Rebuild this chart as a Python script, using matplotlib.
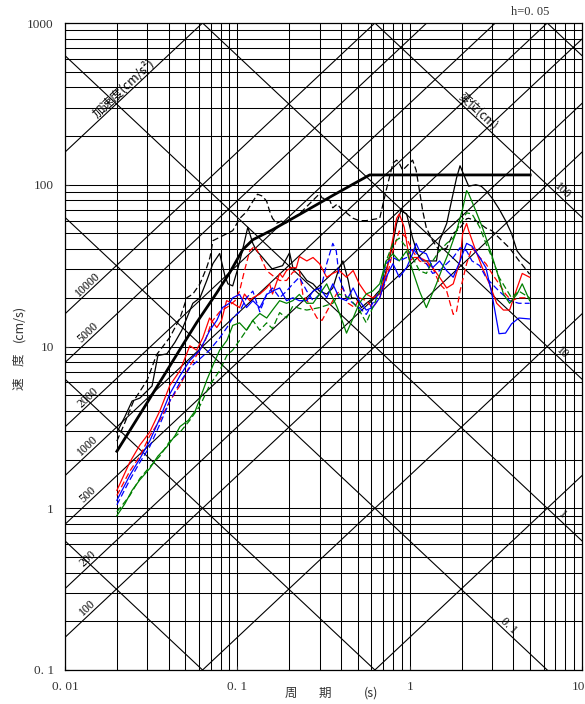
import numpy as np
import matplotlib
matplotlib.use("Agg")
import matplotlib.pyplot as plt
from matplotlib.transforms import offset_copy

plt.rcParams['font.family'] = ['Liberation Serif', 'Noto Sans CJK JP', 'DejaVu Sans']
JP = ['Noto Sans CJK JP', 'DejaVu Sans']

# ---- grid / tripartite lines ----
acc_lines = [1, 10, 100, 200, 500, 1000, 2000, 5000, 10000, 100000]   # cm/s2
acc_labels = [100, 200, 500, 1000, 2000, 5000, 10000]
disp_lines = [0.001, 0.01, 0.1, 1, 10, 100, 1000]                    # cm
disp_labels = {100: "100", 10: "10", 1: "1", 0.1: "0. 1"}

# ---- spectra (period s, velocity cm/s) ----
design_T = [0.02, 0.03, 0.0465, 0.0582, 0.076, 0.0905, 0.1075, 0.123, 0.16, 0.229, 0.366, 0.586, 5.0]
design_V = [2.25, 4.5, 9.6, 14.1, 21.5, 28.7, 39.7, 45.7, 52.7, 65.4, 87, 115, 115]

blk_T = [0.02, 0.0223, 0.0245, 0.0272, 0.032, 0.0346, 0.039, 0.0434, 0.0476, 0.0552, 0.0607, 0.0665,
         0.0722, 0.079, 0.0847, 0.0882, 0.094, 0.101, 0.107, 0.115, 0.123, 0.129, 0.140, 0.159, 0.183,
         0.201, 0.21, 0.229, 0.253, 0.275, 0.30, 0.33, 0.358, 0.39, 0.41, 0.44, 0.46, 0.49, 0.525, 0.56,
         0.61, 0.64, 0.69, 0.73, 0.79, 0.84, 0.89, 0.96, 1.04, 1.11, 1.19, 1.30, 1.43, 1.49, 1.64, 1.75,
         1.87, 1.96, 2.1, 2.2, 2.42, 2.6, 2.77, 3.0, 3.3, 3.6, 3.9, 4.2, 4.5, 4.97]
blk_V = [2.94, 3.7, 4.6, 4.8, 5.7, 8.8, 9.0, 10.6, 12.6, 18.5, 20.0, 25.6,
         32.6, 37.6, 27.3, 24.4, 23.7, 30.7, 39.2, 54.6, 43.4, 39.2, 35.5, 30.2, 31.6,
         38, 30.7, 29.5, 25.6, 24.4, 22.0, 21.1, 23.0, 30.7, 33.8, 25.6, 20.0, 19.8, 17.4, 18.5,
         19.8, 21.1, 23, 29.4, 40.8, 57.6, 69, 66, 46.8, 37.4, 33.8, 33.8, 33.8, 45, 57.6, 79.6,
         110, 131, 110, 98, 100, 98, 92, 83, 71, 60, 50, 39, 35.5, 32.5]

blkd_T = [0.02, 0.0223, 0.025, 0.03, 0.034, 0.0406, 0.0465, 0.0509, 0.0552, 0.0607, 0.0665, 0.0694,
          0.0722, 0.094, 0.1034, 0.113, 0.123, 0.131, 0.140, 0.148, 0.154, 0.160, 0.169, 0.18, 0.19,
          0.209, 0.229, 0.30, 0.31, 0.344, 0.358, 0.38, 0.40, 0.43, 0.47, 0.51, 0.56, 0.61, 0.67, 0.73,
          0.80, 0.84, 0.87, 0.91, 1.0, 1.04, 1.09, 1.14, 1.19, 1.25, 1.36, 1.49, 1.64, 1.79, 1.96, 2.14,
          2.2, 2.42, 2.77, 3.0, 3.3, 3.8, 4.3, 4.97]
blkd_V = [2.6, 3.4, 4.6, 6.2, 8.9, 11.4, 15.0, 20.0, 21.1, 24.4, 30.9, 35.6,
          45.1, 52, 62, 68, 79, 87.4, 85, 79, 68.6, 62, 57.8, 59.6, 57.8,
          62, 66, 88, 83, 80, 72, 76, 71, 67, 62, 60, 60, 61, 62, 92,
          136, 142, 136, 123, 136, 142, 123, 92, 69, 54, 45, 39, 40.6, 50, 54, 61.6,
          62, 60, 54, 52, 47, 40.6, 34, 28]

red_T = [0.02, 0.0238, 0.0272, 0.031, 0.0355, 0.0406, 0.0465, 0.053, 0.058, 0.063, 0.069, 0.076,
         0.081, 0.0866, 0.094, 0.103, 0.110, 0.118, 0.123, 0.135, 0.148, 0.154, 0.160, 0.176, 0.183,
         0.193, 0.206, 0.22, 0.229, 0.253, 0.275, 0.30, 0.33, 0.358, 0.39, 0.43, 0.47, 0.51, 0.56, 0.61,
         0.67, 0.73, 0.80, 0.84, 0.87, 0.93, 1.0, 1.06, 1.14, 1.25, 1.36, 1.49, 1.64, 1.79, 1.96, 2.03,
         2.14, 2.2, 2.42, 2.64, 2.9, 3.2, 3.5, 3.8, 4.2, 4.5, 4.97]
red_V = [1.29, 1.93, 2.46, 2.95, 4.0, 5.75, 7.1, 10.1, 9.5, 11.3, 15.0, 13.1,
         14.5, 19.2, 18.5, 17.4, 21.1, 19.2, 20, 21.1, 23, 24.4, 21.1, 28.3, 26.8,
         29.5, 30.7, 30.7, 36, 33.8, 35.5, 32.5, 26.8, 28.3, 29.5, 26.8, 29.5, 24.4, 21.1, 20,
         21.1, 28.3, 46.8, 62, 66, 54.6, 33.8, 35.5, 35.5, 33.8, 30.7, 26.8, 23, 24.4, 33.8, 50,
         57.6, 52, 39, 30.7, 24.4, 18.5, 16.8, 16.8, 23, 28.3, 26.8]

redd_T = [0.02, 0.0238, 0.0272, 0.031, 0.0355, 0.0406, 0.0465, 0.053, 0.058, 0.065, 0.071, 0.079,
          0.088, 0.097, 0.103, 0.11, 0.118, 0.126, 0.135, 0.148, 0.16, 0.176, 0.193, 0.21, 0.229,
          0.24, 0.26, 0.29, 0.31, 0.34, 0.375, 0.41, 0.44, 0.48, 0.51, 0.56, 0.61, 0.67, 0.73, 0.80,
          0.87, 0.96, 1.04, 1.14, 1.25, 1.36, 1.49, 1.64, 1.79, 1.87, 1.96, 2.14, 2.3, 2.55, 2.77,
          3.0, 3.3, 3.6, 3.9, 4.3, 4.97]
redd_V = [1.2, 1.7, 2.1, 2.8, 3.5, 4.6, 5.75, 7.6, 8.8, 10.8, 14.2, 16.4,
          17.6, 19.2, 22.0, 29.4, 39.0, 41.7, 36.6, 29.4, 27.5, 25.6, 25.6, 28.8, 29.5,
          21, 18.5, 15, 14.5, 17.4, 21, 23, 18.5, 17.4, 20, 19.2, 17.4, 20, 25.6, 39,
          51.8, 46.8, 39, 33.8, 32.5, 30.7, 24.4, 22, 15.8, 16.5, 22, 32.5, 40.8, 35.5, 32.5,
          28.3, 24.4, 21.1, 19.2, 20, 20]

blu_T = [0.02, 0.0238, 0.027, 0.031, 0.0355, 0.0406, 0.0465, 0.053, 0.0607, 0.069, 0.076, 0.082,
         0.09, 0.094, 0.103, 0.113, 0.123, 0.135, 0.148, 0.16, 0.176, 0.193, 0.21, 0.229, 0.253,
         0.275, 0.30, 0.33, 0.358, 0.39, 0.43, 0.47, 0.51, 0.56, 0.61, 0.67, 0.73, 0.80, 0.87, 0.96,
         1.04, 1.09, 1.14, 1.25, 1.36, 1.49, 1.64, 1.79, 1.96, 2.14, 2.3, 2.55, 2.77, 3.0, 3.3, 3.6,
         3.9, 4.3, 4.97]
blu_V = [1.12, 1.6, 2.0, 2.6, 3.6, 5.1, 6.6, 8.2, 9.5, 12.5, 14.5, 17.4,
         18.5, 20, 21, 17.4, 19.2, 17.4, 21, 22, 23, 19.2, 20, 19.2, 19.2,
         22, 23, 20, 24.4, 20, 19.2, 23, 19.2, 16.8, 17.4, 20, 26.8, 32.5, 26.8, 30.7,
         37.4, 43.4, 39, 37.4, 30.7, 33.8, 29.4, 26.8, 33.8, 43.4, 41.7, 35.5, 30.7, 21.1, 12.0, 12.1,
         13.8, 15, 14.8]

blud_T = [0.02, 0.0238, 0.027, 0.031, 0.0355, 0.0406, 0.0465, 0.053, 0.0607, 0.069, 0.079, 0.087,
          0.094, 0.103, 0.113, 0.123, 0.135, 0.148, 0.16, 0.176, 0.193, 0.21, 0.229, 0.253, 0.275,
          0.30, 0.33, 0.358, 0.375, 0.39, 0.43, 0.47, 0.51, 0.56, 0.61, 0.67, 0.73, 0.80, 0.87, 0.96,
          1.04, 1.14, 1.25, 1.36, 1.49, 1.64, 1.79, 1.96, 2.14, 2.3, 2.55, 2.77, 3.0, 3.3, 3.8, 4.3,
          4.97]
blud_V = [1.05, 1.5, 1.9, 2.4, 3.3, 4.6, 6.0, 7.4, 8.4, 9.5, 11.3, 13.1,
          15, 16.4, 20, 22, 16.4, 21, 23, 20, 22, 24.4, 26.8, 22, 19.2,
          21, 32.5, 43.4, 39, 26.8, 20, 18.5, 17.4, 15.8, 18.5, 22, 32.5, 35.5, 33.8, 35.5,
          40.8, 35.5, 32.5, 28.3, 29.4, 32.5, 35.5, 40.8, 39, 33.8, 31.6, 26.8, 24.4, 22, 19.2, 18.5,
          18.5]

grn_T = [0.02, 0.0223, 0.0245, 0.0272, 0.031, 0.0346, 0.039, 0.0434, 0.0465, 0.052, 0.057, 0.0607,
         0.0665, 0.072, 0.079, 0.087, 0.094, 0.103, 0.113, 0.123, 0.135, 0.148, 0.16, 0.176, 0.193,
         0.21, 0.229, 0.253, 0.275, 0.30, 0.33, 0.358, 0.38, 0.41, 0.43, 0.47, 0.51, 0.56, 0.61, 0.67,
         0.73, 0.80, 0.87, 0.96, 1.04, 1.14, 1.25, 1.30, 1.43, 1.55, 1.7, 1.87, 2.03, 2.14, 2.2, 2.42,
         2.64, 2.9, 3.2, 3.5, 3.8, 4.2, 4.5, 4.97]
grn_V = [0.9, 1.07, 1.29, 1.5, 1.76, 2.1, 2.4, 2.8, 3.2, 3.5, 4.0, 4.75,
         6.2, 7.6, 9.5, 10.9, 13.5, 14, 12.6, 14.5, 16, 15, 16.8, 19.2, 18.5,
         19.2, 21, 18.5, 18.5, 21.1, 24.4, 20, 17.4, 14, 12.1, 15, 18.5, 21.1, 22, 24.4,
         33.8, 37.4, 33.8, 39, 29.4, 22, 17.4, 19.2, 24.4, 30.7, 39, 51.8, 71, 92, 88, 69,
         54.6, 40.8, 29.4, 21.1, 18.5, 21.1, 24.4, 19.2]

grnd_T = [0.02, 0.0238, 0.0272, 0.031, 0.0355, 0.0406, 0.0465, 0.053, 0.0607, 0.069, 0.079, 0.087,
          0.094, 0.103, 0.113, 0.123, 0.135, 0.148, 0.16, 0.176, 0.193, 0.21, 0.229, 0.253, 0.30,
          0.358, 0.39, 0.445, 0.51, 0.56, 0.61, 0.67, 0.73, 0.80, 0.87, 0.96, 1.04, 1.14, 1.25, 1.36,
          1.49, 1.64, 1.79, 1.96, 2.14, 2.3, 2.55, 2.77, 3.0, 3.3, 3.6, 3.9, 4.3, 4.97]
grnd_V = [0.95, 1.2, 1.53, 1.8, 2.1, 2.6, 2.95, 3.5, 4.3, 5.75, 7.1, 8.8,
          9.5, 10.9, 12.6, 14.5, 12.6, 14, 12.9, 16.2, 15, 17.8, 17.2, 16.8, 17.4,
          18.5, 21.1, 20, 16.8, 14, 17.4, 22, 33.8, 43.4, 46.8, 40.8, 35.5, 29.4, 28.3, 33.8,
          39, 43.4, 46.8, 57.6, 67, 66, 54.6, 43.4, 35.5, 26.8, 23, 20, 22, 20]

x_ticks = [0.01, 0.1, 1, 10]
x_ticklabels = ["0. 01", "0. 1", "1", "10"]
y_ticks = [0.1, 1, 10, 100, 1000]
y_ticklabels = ["0. 1", "1", "10", "100", "1000"]

# ---- figure ----
fig = plt.figure(figsize=(5.85, 7.04), dpi=100)
ax = fig.add_axes([65 / 585, 34 / 704, 517 / 585, 647 / 704])
ax.set_xscale('log')
ax.set_yscale('log')
ax.set_xlim(0.01, 10)
ax.set_ylim(0.1, 1000)

gkw = dict(color='black', lw=0.75, zorder=1)
for dec in [0.01, 0.1, 1]:
    for k in range(1, 10):
        ax.axvline(dec * k, **gkw)
for dec in [0.1, 1, 10, 100]:
    for k in range(1, 10):
        ax.axhline(dec * k, **gkw)

Tl = np.array([0.001, 100.0])
for a in acc_lines:
    ax.plot(Tl, a * Tl / (2 * np.pi), color='black', lw=0.8, zorder=1)
for d in disp_lines:
    ax.plot(Tl, 2 * np.pi * d / Tl, color='black', lw=0.8, zorder=1)

ang = np.degrees(np.arctan((647 / 4) / (517 / 3)))

for a in acc_labels:
    t = 0.0143
    ax.text(t, a * t / (2 * np.pi), f"{a}", rotation=ang, rotation_mode='anchor',
            ha='center', va='bottom', fontsize=8.5, zorder=5)
t = 0.0232
ax.text(t, 1e5 * t / (2 * np.pi), "加速度(cm/s²)", rotation=ang, rotation_mode='anchor',
        ha='center', va='bottom', fontsize=9, family=JP, zorder=5)

for d, s in disp_labels.items():
    t = 7.3 if d >= 1 else 3.55
    ax.text(t, 2 * np.pi * d / t, s, rotation=-ang, rotation_mode='anchor',
            ha='center', va='bottom', fontsize=8.5, zorder=5)
t = 2.35
ax.text(t, 2 * np.pi * 100 / t, "変位(cm)", rotation=-ang, rotation_mode='anchor',
        ha='center', va='bottom', fontsize=8.5, family=JP, zorder=5)

# spectra
dash = (0, (5, 2.5))
ax.plot(blkd_T, blkd_V, color='black', lw=0.9, ls=dash, zorder=3)
ax.plot(blk_T, blk_V, color='black', lw=0.9, zorder=3)
ax.plot(redd_T, redd_V, color='red', lw=0.9, ls=dash, zorder=3)
ax.plot(red_T, red_V, color='red', lw=0.9, zorder=3)
ax.plot(blud_T, blud_V, color='blue', lw=0.9, ls=dash, zorder=3)
ax.plot(blu_T, blu_V, color='blue', lw=0.9, zorder=3)
ax.plot(grnd_T, grnd_V, color='green', lw=0.9, ls=dash, zorder=3)
ax.plot(grn_T, grn_V, color='green', lw=0.9, zorder=3)
ax.plot(design_T, design_V, color='black', lw=2.0, zorder=4)

ax.set_xticks(x_ticks)
ax.set_xticklabels(x_ticklabels)
ax.set_yticks(y_ticks)
ax.set_yticklabels(y_ticklabels)
ax.minorticks_off()
ax.tick_params(axis='both', direction='in', length=3, labelsize=9.5, pad=8, colors='#333333')
# keep the last period label inside the picture
last = ax.get_xticklabels()[-1]
last.set_horizontalalignment('right')
last.set_transform(offset_copy(last.get_transform(), fig=fig, x=3, units='dots'))
for sp in ax.spines.values():
    sp.set_linewidth(0.9)

# axis titles, letters spread like the original
tkw = dict(ha='center', va='center', fontsize=9, family=JP, color='#333333')
fig.text(291 / 585, 1 - 693 / 704, "周", **tkw)
fig.text(325 / 585, 1 - 693 / 704, "期", **tkw)
fig.text(371 / 585, 1 - 693 / 704, "(s)", **tkw)
fig.text(19 / 585, 1 - 384 / 704, "速", rotation=90, **tkw)
fig.text(19 / 585, 1 - 360 / 704, "度", rotation=90, **tkw)
fig.text(19 / 585, 1 - 323 / 704, "(cm/s)", rotation=90, **tkw)
fig.text(530 / 585, 1 - 12 / 704, "h=0. 05", ha='center', va='center', fontsize=9,
         color='#333333')

fig.savefig("out.png", dpi=100)
